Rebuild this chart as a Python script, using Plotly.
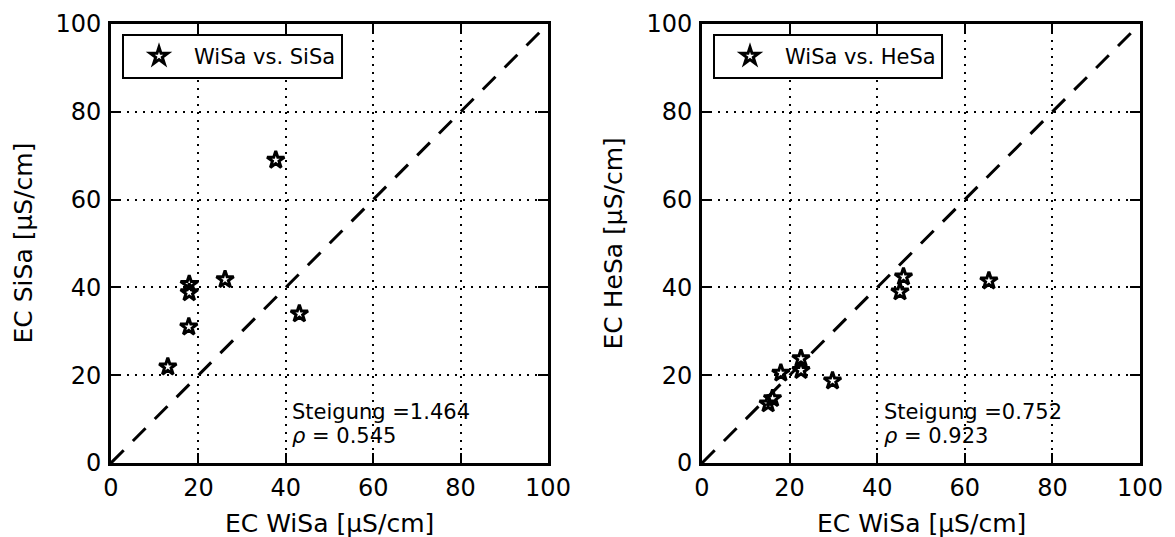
import plotly.graph_objects as go

# EC measurements [µS/cm]
wisa_vs_sisa_x = [37.7, 26.1, 17.9, 17.9, 17.8, 43.1, 13.0]
sisa_y = [69.0, 41.8, 40.7, 38.8, 31.0, 34.0, 21.9]

wisa_vs_hesa_x = [46.0, 45.2, 65.5, 22.6, 22.6, 18.0, 29.8, 16.1, 15.1]
hesa_y = [42.4, 39.0, 41.5, 23.8, 21.1, 20.5, 18.7, 14.7, 13.5]

stats_left = {"slope": "1.464", "rho": "0.545"}
stats_right = {"slope": "0.752", "rho": "0.923"}
ticks = [0, 20, 40, 60, 80, 100]

FONT = "DejaVu Sans"
W, H = 1175, 537
fig = go.Figure()

marker = dict(symbol="star-open", size=13, color="black", line=dict(width=3, color="black"))

for xs, ys, name, xa, ya, leg in [
    (wisa_vs_sisa_x, sisa_y, "WiSa vs. SiSa", "x", "y", "legend"),
    (wisa_vs_hesa_x, hesa_y, "WiSa vs. HeSa", "x2", "y2", "legend2"),
]:
    fig.add_trace(go.Scatter(x=[0, 100], y=[0, 100], mode="lines",
                             line=dict(color="black", width=3, dash="18px,13px"),
                             showlegend=False, xaxis=xa, yaxis=ya, hoverinfo="skip"))
    fig.add_trace(go.Scatter(x=xs, y=ys, mode="markers", marker=marker, name=name,
                             xaxis=xa, yaxis=ya, legend=leg))

ax_common = dict(range=[0, 100], tickvals=ticks, showgrid=True, gridcolor="black",
                 griddash="2px,6px", gridwidth=1.5, zeroline=False, showline=True,
                 linecolor="black", linewidth=3, mirror="allticks", ticks="inside",
                 ticklen=10, tickwidth=2, tickcolor="black", automargin=False,
                 tickfont=dict(family=FONT, size=24, color="black"))

xdom_l = [111 / W, 548 / W]
xdom_r = [702 / W, 1140 / W]
ydom = [1 - 463 / H, 1 - 24 / H]

legend_style = dict(xanchor="left", yanchor="top", bgcolor="white",
                    bordercolor="black", borderwidth=2, itemwidth=60,
                    font=dict(family=FONT, size=21, color="black"))

fig.update_layout(
    width=W, height=H, margin=dict(l=0, r=0, t=0, b=0),
    plot_bgcolor="white", paper_bgcolor="white",
    xaxis=dict(domain=xdom_l, anchor="y", ticklabelstandoff=1, **ax_common),
    yaxis=dict(domain=ydom, anchor="x", ticklabelstandoff=2, **ax_common),
    xaxis2=dict(domain=xdom_r, anchor="y2", ticklabelstandoff=1, **ax_common),
    yaxis2=dict(domain=ydom, anchor="x2", ticklabelstandoff=2, **ax_common),
    legend=dict(x=122 / W, y=1 - 34 / H, **legend_style),
    legend2=dict(x=713 / W, y=1 - 34 / H, **legend_style),
    showlegend=True,
)

# axis titles
title_font = dict(family=FONT, size=25, color="black")
for xc in [(xdom_l[0] + xdom_l[1]) / 2, (xdom_r[0] + xdom_r[1]) / 2]:
    fig.add_annotation(x=xc, y=1 - 523 / H, xref="paper", yref="paper", showarrow=False,
                       text="EC WiSa [µS/cm]", font=title_font,
                       xanchor="center", yanchor="middle")
ymid = (ydom[0] + ydom[1]) / 2
for xp, label in [(23 / W, "EC SiSa [µS/cm]"), (613 / W, "EC HeSa [µS/cm]")]:
    fig.add_annotation(x=xp, y=ymid, xref="paper", yref="paper", showarrow=False,
                       text=label, textangle=-90, font=title_font,
                       xanchor="center", yanchor="middle")

# slope and correlation text
stat_font = dict(family=FONT, size=21, color="black")
for xr, yr, st in [("x", "y", stats_left), ("x2", "y2", stats_right)]:
    fig.add_annotation(x=41, y=11.6, xref=xr, yref=yr, xanchor="left", yanchor="middle",
                       showarrow=False, text=f"Steigung ={st['slope']}", font=stat_font)
    fig.add_annotation(x=41, y=6.2, xref=xr, yref=yr, xanchor="left", yanchor="middle",
                       showarrow=False, text=f"<i>ρ</i> = {st['rho']}", font=stat_font)

fig.write_html("out.html")
